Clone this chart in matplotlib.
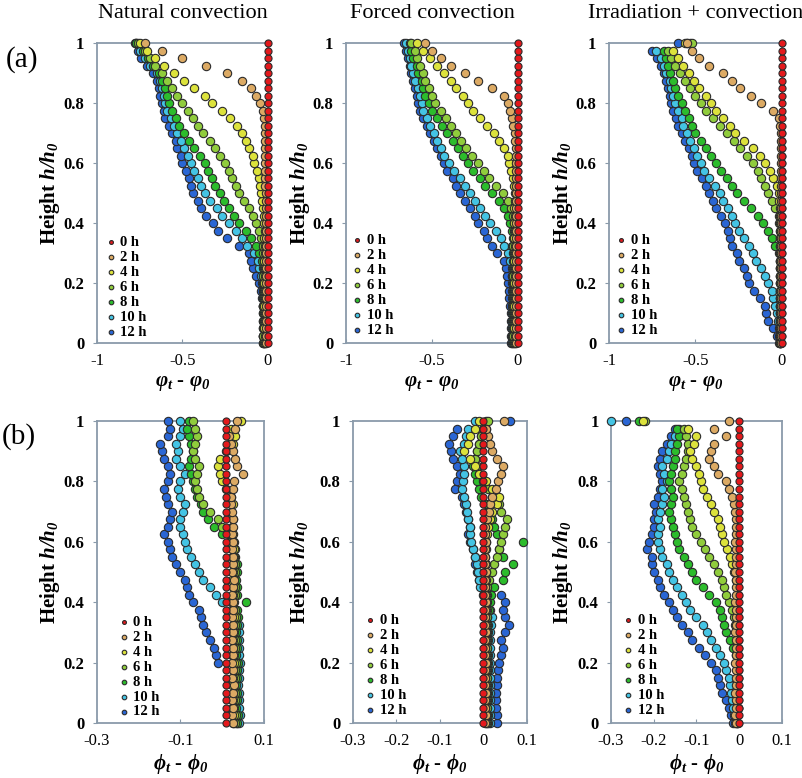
import matplotlib
matplotlib.use('Agg')
from matplotlib import pyplot as plt

# heights h/h0 shared by every series (measurement positions)
heights = [0.0, 0.025, 0.05, 0.075, 0.1, 0.125, 0.15, 0.175, 0.2, 0.225,
           0.25, 0.275, 0.3, 0.325, 0.35, 0.375, 0.4, 0.425, 0.45, 0.475,
           0.5, 0.525, 0.55, 0.575, 0.6, 0.625, 0.65, 0.675, 0.7, 0.725,
           0.75, 0.775, 0.8, 0.825, 0.85, 0.875, 0.9, 0.925, 0.95, 0.975, 1.0]

series_labels = ['0 h', '2 h', '4 h', '6 h', '8 h', '10 h', '12 h']
series_colors = ['#e4191c', '#dcaa64', '#dce23c', '#90cc3c', '#2cbc2c', '#44c4e4', '#2a66d4']

# ---- (a) varphi_t - varphi_0, natural convection ----
nat_a_0h = [0.0, 0.0, 0.0, 0.0, 0.0, 0.0, 0.0, 0.0, 0.0, 0.0,
            0.0, 0.0, 0.0, 0.0, 0.0, 0.0, 0.0, 0.0, 0.0, 0.0,
            0.0, 0.0, 0.0, 0.0, 0.0, 0.0, 0.0, 0.0, 0.0, 0.0,
            0.0, 0.0, 0.0, 0.0, 0.0, 0.0, 0.0, 0.0, 0.0, 0.0, 0.0]
nat_a_2h = [-0.010, -0.012, -0.010, -0.011, -0.010, -0.012, -0.011, -0.010, -0.012, -0.011,
            -0.010, -0.012, -0.011, -0.010, -0.012, -0.011, -0.010, -0.012, -0.011, -0.012,
            -0.013, -0.015, -0.015, -0.015, -0.016, -0.017, -0.018, -0.019, -0.020, -0.020,
            -0.022, -0.030, -0.045, -0.070, -0.100, -0.150, -0.240, -0.360, -0.500, -0.620, -0.720]
nat_a_4h = [-0.020, -0.018, -0.021, -0.019, -0.020, -0.022, -0.019, -0.020, -0.021, -0.018,
            -0.020, -0.022, -0.019, -0.020, -0.021, -0.019, -0.022, -0.025, -0.030, -0.035,
            -0.040, -0.045, -0.055, -0.065, -0.080, -0.090, -0.110, -0.130, -0.150, -0.180,
            -0.220, -0.270, -0.330, -0.370, -0.430, -0.490, -0.550, -0.610, -0.660, -0.710, -0.750]
nat_a_6h = [-0.025, -0.027, -0.024, -0.026, -0.025, -0.027, -0.024, -0.026, -0.025, -0.027,
            -0.024, -0.026, -0.027, -0.030, -0.040, -0.050, -0.070, -0.090, -0.110, -0.140,
            -0.170, -0.190, -0.210, -0.230, -0.250, -0.280, -0.310, -0.340, -0.380, -0.410,
            -0.440, -0.470, -0.500, -0.530, -0.560, -0.590, -0.620, -0.660, -0.690, -0.720, -0.760]
nat_a_8h = [-0.030, -0.032, -0.029, -0.031, -0.030, -0.032, -0.029, -0.031, -0.030, -0.032,
            -0.031, -0.035, -0.050, -0.070, -0.100, -0.130, -0.170, -0.200, -0.230, -0.260,
            -0.280, -0.310, -0.330, -0.350, -0.370, -0.400, -0.430, -0.460, -0.490, -0.520,
            -0.540, -0.560, -0.580, -0.590, -0.600, -0.620, -0.640, -0.670, -0.700, -0.730, -0.770]
nat_a_10h = [-0.025, -0.027, -0.024, -0.026, -0.025, -0.027, -0.026, -0.028, -0.035, -0.040,
             -0.050, -0.060, -0.080, -0.120, -0.150, -0.190, -0.230, -0.270, -0.300, -0.340,
             -0.370, -0.390, -0.410, -0.430, -0.450, -0.470, -0.490, -0.510, -0.530, -0.550,
             -0.570, -0.590, -0.600, -0.610, -0.620, -0.630, -0.650, -0.690, -0.720, -0.750, -0.770]
nat_a_12h = [-0.030, -0.032, -0.029, -0.031, -0.030, -0.032, -0.035, -0.040, -0.050, -0.070,
             -0.090, -0.100, -0.110, -0.170, -0.240, -0.290, -0.320, -0.360, -0.390, -0.410,
             -0.440, -0.450, -0.460, -0.480, -0.500, -0.510, -0.530, -0.540, -0.560, -0.580,
             -0.600, -0.610, -0.620, -0.630, -0.640, -0.650, -0.670, -0.710, -0.740, -0.760, -0.780]

# ---- (a) forced convection ----
for_a_0h = [0.0, 0.0, 0.0, 0.0, 0.0, 0.0, 0.0, 0.0, 0.0, 0.0,
            0.0, 0.0, 0.0, 0.0, 0.0, 0.0, 0.0, 0.0, 0.0, 0.0,
            0.0, 0.0, 0.0, 0.0, 0.0, 0.0, 0.0, 0.0, 0.0, 0.0,
            0.0, 0.0, 0.0, 0.0, 0.0, 0.0, 0.0, 0.0, 0.0, 0.0, 0.0]
for_a_2h = [-0.010, -0.012, -0.010, -0.011, -0.010, -0.012, -0.011, -0.010, -0.012, -0.011,
            -0.010, -0.012, -0.011, -0.010, -0.012, -0.011, -0.010, -0.012, -0.011, -0.010,
            -0.012, -0.011, -0.010, -0.012, -0.011, -0.010, -0.012, -0.015, -0.020, -0.030,
            -0.035, -0.045, -0.060, -0.080, -0.150, -0.230, -0.310, -0.390, -0.450, -0.500, -0.540]
for_a_4h = [-0.020, -0.018, -0.021, -0.019, -0.020, -0.022, -0.019, -0.020, -0.021, -0.018,
            -0.020, -0.022, -0.019, -0.020, -0.021, -0.019, -0.022, -0.020, -0.021, -0.019,
            -0.020, -0.025, -0.030, -0.040, -0.050, -0.060, -0.080, -0.110, -0.140, -0.180,
            -0.220, -0.260, -0.290, -0.320, -0.360, -0.390, -0.430, -0.470, -0.510, -0.550, -0.590]
for_a_6h = [-0.025, -0.027, -0.024, -0.026, -0.025, -0.027, -0.024, -0.026, -0.025, -0.027,
            -0.024, -0.026, -0.025, -0.027, -0.024, -0.026, -0.025, -0.030, -0.040, -0.060,
            -0.090, -0.130, -0.170, -0.200, -0.230, -0.270, -0.300, -0.330, -0.360, -0.390,
            -0.420, -0.450, -0.480, -0.500, -0.520, -0.540, -0.550, -0.570, -0.590, -0.600, -0.620]
for_a_8h = [-0.030, -0.032, -0.029, -0.031, -0.030, -0.032, -0.029, -0.031, -0.030, -0.032,
            -0.029, -0.031, -0.030, -0.032, -0.031, -0.035, -0.045, -0.060, -0.080, -0.110,
            -0.150, -0.190, -0.220, -0.260, -0.290, -0.320, -0.350, -0.380, -0.410, -0.440,
            -0.470, -0.500, -0.520, -0.540, -0.550, -0.560, -0.580, -0.590, -0.610, -0.620, -0.630]
for_a_10h = [-0.035, -0.037, -0.034, -0.036, -0.035, -0.037, -0.034, -0.036, -0.035, -0.037,
             -0.036, -0.045, -0.060, -0.080, -0.100, -0.130, -0.160, -0.190, -0.220, -0.250,
             -0.280, -0.310, -0.340, -0.370, -0.400, -0.430, -0.450, -0.470, -0.490, -0.510,
             -0.530, -0.550, -0.560, -0.570, -0.580, -0.600, -0.610, -0.620, -0.630, -0.640, -0.650]
for_a_12h = [-0.040, -0.042, -0.040, -0.041, -0.040, -0.045, -0.050, -0.055, -0.060, -0.065,
             -0.070, -0.080, -0.120, -0.150, -0.180, -0.200, -0.230, -0.250, -0.280, -0.310,
             -0.340, -0.360, -0.380, -0.410, -0.430, -0.450, -0.470, -0.490, -0.510, -0.530,
             -0.550, -0.570, -0.580, -0.590, -0.600, -0.610, -0.620, -0.630, -0.640, -0.650, -0.660]

# ---- (a) irradiation + convection ----
irr_a_0h = [0.0, 0.0, 0.0, 0.0, 0.0, 0.0, 0.0, 0.0, 0.0, 0.0,
            0.0, 0.0, 0.0, 0.0, 0.0, 0.0, 0.0, 0.0, 0.0, 0.0,
            0.0, 0.0, 0.0, 0.0, 0.0, 0.0, 0.0, 0.0, 0.0, 0.0,
            0.0, 0.0, 0.0, 0.0, 0.0, 0.0, 0.0, 0.0, 0.0, 0.0, 0.0]
irr_a_2h = [-0.005, -0.006, -0.005, -0.004, -0.005, -0.006, -0.005, -0.004, -0.005, -0.006,
            -0.005, -0.004, -0.005, -0.006, -0.005, -0.004, -0.005, -0.006, -0.005, -0.004,
            -0.005, -0.006, -0.005, -0.004, -0.005, -0.006, -0.005, -0.004, -0.005, -0.010,
            -0.020, -0.050, -0.120, -0.180, -0.240, -0.290, -0.340, -0.420, -0.480, -0.520, -0.550]
irr_a_4h = [-0.010, -0.012, -0.010, -0.011, -0.010, -0.012, -0.011, -0.010, -0.012, -0.011,
            -0.010, -0.012, -0.011, -0.010, -0.012, -0.011, -0.010, -0.012, -0.011, -0.015,
            -0.020, -0.030, -0.050, -0.070, -0.100, -0.130, -0.170, -0.220, -0.270, -0.300,
            -0.340, -0.380, -0.410, -0.440, -0.480, -0.510, -0.540, -0.570, -0.600, -0.630, -0.560]
irr_a_6h = [-0.010, -0.012, -0.010, -0.011, -0.010, -0.012, -0.011, -0.010, -0.012, -0.011,
            -0.010, -0.012, -0.011, -0.010, -0.012, -0.011, -0.015, -0.020, -0.040, -0.060,
            -0.080, -0.100, -0.120, -0.140, -0.170, -0.200, -0.240, -0.280, -0.320, -0.360,
            -0.400, -0.440, -0.470, -0.500, -0.530, -0.560, -0.590, -0.620, -0.640, -0.660, -0.520]
irr_a_8h = [-0.010, -0.012, -0.010, -0.011, -0.010, -0.012, -0.011, -0.010, -0.012, -0.011,
            -0.010, -0.012, -0.020, -0.040, -0.060, -0.080, -0.110, -0.140, -0.180, -0.220,
            -0.260, -0.290, -0.320, -0.350, -0.380, -0.410, -0.440, -0.470, -0.500, -0.520,
            -0.540, -0.560, -0.580, -0.600, -0.620, -0.630, -0.650, -0.660, -0.670, -0.680, -0.530]
irr_a_10h = [-0.010, -0.015, -0.020, -0.025, -0.030, -0.040, -0.050, -0.060, -0.080, -0.100,
             -0.120, -0.150, -0.170, -0.190, -0.220, -0.250, -0.270, -0.290, -0.310, -0.340,
             -0.360, -0.390, -0.420, -0.450, -0.470, -0.490, -0.510, -0.530, -0.550, -0.570,
             -0.580, -0.600, -0.620, -0.630, -0.640, -0.650, -0.670, -0.680, -0.700, -0.730, -0.550]
irr_a_12h = [-0.020, -0.030, -0.050, -0.080, -0.090, -0.100, -0.130, -0.160, -0.190, -0.200,
             -0.220, -0.250, -0.260, -0.290, -0.300, -0.310, -0.330, -0.350, -0.380, -0.400,
             -0.420, -0.440, -0.460, -0.490, -0.510, -0.520, -0.540, -0.560, -0.580, -0.600,
             -0.610, -0.630, -0.640, -0.650, -0.660, -0.670, -0.680, -0.700, -0.720, -0.750, -0.600]

# ---- (b) phi_t - phi_0, natural convection ----
nat_b_0h = [0.010, 0.010, 0.010, 0.010, 0.010, 0.010, 0.010, 0.010, 0.010, 0.010,
            0.010, 0.010, 0.010, 0.010, 0.010, 0.010, 0.010, 0.010, 0.010, 0.010,
            0.010, 0.010, 0.010, 0.010, 0.010, 0.010, 0.010, 0.010, 0.010, 0.010,
            0.010, 0.010, 0.010, 0.010, 0.010, 0.010, 0.010, 0.010, 0.010, 0.010, 0.010]
nat_b_2h = [0.025, 0.023, 0.026, 0.024, 0.025, 0.027, 0.024, 0.025, 0.023, 0.026,
            0.025, 0.024, 0.026, 0.025, 0.023, 0.025, 0.026, 0.024, 0.025, 0.027,
            0.024, 0.025, 0.026, 0.024, 0.025, 0.023, 0.026, 0.025, 0.024, 0.022,
            0.022, 0.025, 0.028, 0.050, 0.035, 0.030, 0.025, 0.020, 0.015, 0.030, 0.035]
nat_b_4h = [0.025, 0.027, 0.024, 0.026, 0.025, 0.023, 0.026, 0.025, 0.027, 0.024,
            0.025, 0.026, 0.024, 0.025, 0.027, 0.025, 0.024, 0.026, 0.025, 0.023,
            0.026, 0.025, 0.024, 0.027, 0.025, 0.026, 0.024, 0.025, 0.020, 0.025,
            0.020, 0.010, 0.000, -0.005, -0.010, -0.005, 0.010, 0.025, 0.030, 0.020, 0.045]
nat_b_6h = [0.030, 0.032, 0.029, 0.031, 0.030, 0.028, 0.031, 0.030, 0.032, 0.029,
            0.030, 0.031, 0.029, 0.030, 0.032, 0.030, 0.029, 0.031, 0.030, 0.028,
            0.031, 0.030, 0.029, 0.030, 0.028, 0.015, 0.000, -0.010, -0.030, -0.045,
            -0.055, -0.060, -0.065, -0.060, -0.055, -0.065, -0.070, -0.065, -0.060, -0.065, -0.070]
nat_b_8h = [0.035, 0.037, 0.034, 0.036, 0.035, 0.033, 0.036, 0.035, 0.037, 0.034,
            0.035, 0.036, 0.034, 0.035, 0.037, 0.035, 0.058, 0.036, 0.035, 0.033,
            0.036, 0.035, 0.030, 0.025, 0.015, 0.000, -0.020, -0.035, -0.045, -0.050,
            -0.060, -0.065, -0.070, -0.075, -0.080, -0.075, -0.070, -0.075, -0.080, -0.085, -0.080]
nat_b_10h = [0.040, 0.042, 0.039, 0.041, 0.040, 0.038, 0.041, 0.040, 0.042, 0.039,
             0.040, 0.041, 0.039, 0.040, 0.035, 0.020, 0.000, -0.015, -0.030, -0.045,
             -0.055, -0.065, -0.075, -0.085, -0.090, -0.095, -0.100, -0.100, -0.095, -0.090,
             -0.100, -0.105, -0.100, -0.090, -0.100, -0.110, -0.105, -0.110, -0.100, -0.095, -0.100]
nat_b_12h = [0.035, 0.037, 0.034, 0.036, 0.035, 0.033, 0.036, 0.035, -0.010, -0.015,
             -0.020, -0.030, -0.040, -0.045, -0.050, -0.055, -0.070, -0.080, -0.085, -0.090,
             -0.100, -0.110, -0.120, -0.125, -0.130, -0.140, -0.130, -0.125, -0.120, -0.130,
             -0.135, -0.140, -0.130, -0.125, -0.130, -0.140, -0.145, -0.150, -0.130, -0.125, -0.130]

# ---- (b) forced convection ----
for_b_0h = [0.0, 0.0, 0.0, 0.0, 0.0, 0.0, 0.0, 0.0, 0.0, 0.0,
            0.0, 0.0, 0.0, 0.0, 0.0, 0.0, 0.0, 0.0, 0.0, 0.0,
            0.0, 0.0, 0.0, 0.0, 0.0, 0.0, 0.0, 0.0, 0.0, 0.0,
            0.0, 0.0, 0.0, 0.0, 0.0, 0.0, 0.0, 0.0, 0.0, 0.0, 0.0]
for_b_2h = [0.004, 0.005, 0.003, 0.004, 0.005, 0.004, 0.003, 0.004, 0.005, 0.004,
            0.003, 0.004, 0.005, 0.004, 0.003, 0.004, 0.005, 0.004, 0.003, 0.004,
            0.005, 0.004, 0.003, 0.004, 0.005, 0.004, 0.003, 0.008, 0.012, 0.016,
            0.020, 0.028, 0.033, 0.040, 0.045, 0.030, 0.020, 0.015, 0.010, 0.005, 0.048]
for_b_4h = [0.005, 0.006, 0.004, 0.005, 0.006, 0.005, 0.004, 0.005, 0.006, 0.005,
            0.004, 0.005, 0.006, 0.005, 0.004, 0.005, 0.006, 0.005, 0.004, 0.005,
            0.006, 0.005, 0.004, 0.005, 0.006, 0.007, 0.010, 0.015, 0.020, 0.030,
            0.035, 0.020, 0.005, -0.010, -0.020, -0.030, -0.045, -0.035, -0.030, -0.020, -0.010]
for_b_6h = [0.008, 0.009, 0.007, 0.008, 0.009, 0.008, 0.007, 0.008, 0.009, 0.008,
            0.007, 0.008, 0.009, 0.008, 0.007, 0.008, 0.009, 0.008, 0.007, 0.012,
            0.020, 0.025, 0.030, 0.035, 0.040, 0.045, 0.050, 0.055, 0.040, 0.035,
            0.020, 0.010, 0.000, -0.010, -0.015, -0.020, -0.015, -0.010, -0.005, 0.005, 0.010]
for_b_8h = [0.010, 0.011, 0.009, 0.010, 0.011, 0.010, 0.009, 0.010, 0.011, 0.010,
            0.009, 0.010, 0.011, 0.010, 0.009, 0.012, 0.015, 0.018, 0.025, 0.045,
            0.050, 0.068, 0.045, 0.035, 0.090, 0.030, 0.025, 0.020, 0.010, 0.005,
            -0.005, -0.010, -0.015, -0.020, -0.025, -0.020, -0.015, -0.010, -0.005, 0.000, 0.005]
for_b_10h = [0.015, 0.016, 0.014, 0.015, 0.016, 0.015, 0.014, 0.015, 0.016, 0.015,
             0.014, 0.015, 0.016, 0.018, 0.020, 0.015, 0.010, 0.000, -0.008, -0.010,
             -0.012, -0.015, -0.020, -0.025, -0.028, -0.030, -0.032, -0.035, -0.038, -0.040,
             -0.045, -0.050, -0.048, -0.045, -0.044, -0.050, -0.055, -0.045, -0.040, -0.035, -0.020]
for_b_12h = [0.030, 0.031, 0.029, 0.028, 0.028, 0.030, 0.032, 0.033, 0.035, 0.040,
             0.045, 0.040, 0.050, 0.058, 0.050, 0.045, 0.050, 0.040, 0.000, -0.010,
             -0.015, -0.020, -0.020, -0.025, -0.030, -0.035, -0.030, -0.035, -0.040, -0.045,
             -0.050, -0.065, -0.060, -0.055, -0.060, -0.070, -0.075, -0.080, -0.070, -0.060, 0.062]

# ---- (b) irradiation + convection ----
irr_b_0h = [0.0, 0.0, 0.0, 0.0, 0.0, 0.0, 0.0, 0.0, 0.0, 0.0,
            0.0, 0.0, 0.0, 0.0, 0.0, 0.0, 0.0, 0.0, 0.0, 0.0,
            0.0, 0.0, 0.0, 0.0, 0.0, 0.0, 0.0, 0.0, 0.0, 0.0,
            0.0, 0.0, 0.0, 0.0, 0.0, 0.0, 0.0, 0.0, 0.0, 0.0, 0.0]
irr_b_2h = [-0.008, -0.009, -0.007, -0.008, -0.009, -0.008, -0.007, -0.008, -0.009, -0.008,
            -0.007, -0.008, -0.009, -0.008, -0.007, -0.008, -0.009, -0.008, -0.007, -0.008,
            -0.009, -0.008, -0.007, -0.008, -0.009, -0.008, -0.007, -0.008, -0.009, -0.012,
            -0.016, -0.025, -0.032, -0.050, -0.060, -0.070, -0.065, -0.060, -0.030, -0.060, -0.025]
irr_b_4h = [-0.004, -0.005, -0.003, -0.004, -0.005, -0.004, -0.003, -0.004, -0.005, -0.004,
            -0.003, -0.004, -0.005, -0.004, -0.003, -0.004, -0.005, -0.004, -0.003, -0.008,
            -0.012, -0.018, -0.022, -0.028, -0.035, -0.040, -0.045, -0.050, -0.058, -0.065,
            -0.075, -0.085, -0.090, -0.095, -0.100, -0.110, -0.115, -0.105, -0.100, -0.120, -0.225]
irr_b_6h = [-0.005, -0.006, -0.004, -0.005, -0.006, -0.005, -0.004, -0.005, -0.006, -0.005,
            -0.004, -0.005, -0.006, -0.010, -0.012, -0.018, -0.025, -0.030, -0.035, -0.040,
            -0.050, -0.060, -0.070, -0.080, -0.090, -0.100, -0.110, -0.115, -0.120, -0.125,
            -0.130, -0.135, -0.140, -0.135, -0.130, -0.125, -0.120, -0.120, -0.125, -0.130, -0.220]
irr_b_8h = [-0.005, -0.006, -0.004, -0.005, -0.006, -0.005, -0.004, -0.005, -0.006, -0.008,
            -0.015, -0.022, -0.030, -0.035, -0.040, -0.045, -0.055, -0.070, -0.085, -0.100,
            -0.110, -0.120, -0.130, -0.140, -0.145, -0.150, -0.155, -0.160, -0.165, -0.160,
            -0.155, -0.160, -0.165, -0.160, -0.155, -0.150, -0.150, -0.145, -0.140, -0.145, -0.235]
irr_b_10h = [-0.010, -0.012, -0.015, -0.018, -0.020, -0.022, -0.025, -0.030, -0.035, -0.045,
             -0.055, -0.065, -0.075, -0.085, -0.100, -0.115, -0.125, -0.135, -0.145, -0.155,
             -0.165, -0.170, -0.180, -0.185, -0.190, -0.190, -0.185, -0.190, -0.185, -0.180,
             -0.175, -0.180, -0.170, -0.175, -0.180, -0.170, -0.165, -0.160, -0.150, -0.140, -0.300]
irr_b_12h = [-0.015, -0.020, -0.025, -0.030, -0.040, -0.045, -0.050, -0.055, -0.065, -0.080,
             -0.095, -0.110, -0.120, -0.135, -0.145, -0.155, -0.165, -0.175, -0.185, -0.190,
             -0.200, -0.205, -0.205, -0.215, -0.210, -0.205, -0.200, -0.200, -0.195, -0.200,
             -0.190, -0.185, -0.180, -0.185, -0.190, -0.185, -0.180, -0.170, -0.160, -0.150, -0.265]

yticks = [0, 0.2, 0.4, 0.6, 0.8, 1]
ytick_labels = ['0', '0.2', '0.4', '0.6', '0.8', '1']
xticks_a = [-1, -0.5, 0]
xtick_labels_a = ['-1', '-0.5', '0']
xticks_b1 = [-0.3, -0.1, 0.1]
xtick_labels_b1 = ['-0.3', '-0.1', '0.1']
xticks_b = [-0.3, -0.2, -0.1, 0, 0.1]
xtick_labels_b = ['-0.3', '-0.2', '-0.1', '0', '0.1']

titles = ['Natural convection', 'Forced convection', 'Irradiation + convection']

plt.rcParams['font.family'] = ['Liberation Serif', 'DejaVu Serif']
plt.rcParams['axes.unicode_minus'] = False
plt.rcParams['mathtext.fontset'] = 'custom'
plt.rcParams['mathtext.rm'] = 'Liberation Serif:italic:bold'
plt.rcParams['mathtext.it'] = 'Liberation Serif:italic:bold'
plt.rcParams['mathtext.bf'] = 'Liberation Serif:bold'

W, H = 803, 778
fig = plt.figure(figsize=(W / 100, H / 100), dpi=100)


def px_axes(left, top, width, height):
    return fig.add_axes([left / W, 1 - (top + height) / H, width / W, height / H])


def draw_panel(ax, series, xlim, xticks, xlabels, legend_xy):
    # draw later hours first so the 0 h column stays on top
    handles = []
    for values, color, label in reversed(list(zip(series, series_colors, series_labels))):
        size = 26 if label == '0 h' else 36
        sc = ax.scatter(values, heights, s=size, c=color, edgecolors='#2b2b2b',
                        linewidths=0.8, label=label, zorder=3, clip_on=False)
        handles.append(sc)
    handles = handles[::-1]
    ax.set_xlim(xlim)
    ax.set_ylim(0, 1)
    ax.set_xticks(xticks)
    ax.set_xticklabels(xlabels, fontsize=12)
    ax.set_yticks(yticks)
    ax.set_yticklabels(ytick_labels, fontsize=12, fontweight='bold')
    ax.tick_params(axis='x', direction='in', length=3, color='#8a9aaa', pad=7)
    ax.tick_params(axis='y', direction='out', length=3, color='#8a9aaa', pad=6)
    for sp in ax.spines.values():
        sp.set_color('#8a9aaa')
        sp.set_linewidth(1.3)
    ax.legend(handles=handles, loc='lower left', bbox_to_anchor=legend_xy, frameon=False,
              markerscale=0.55, handlelength=0.7, handletextpad=0.3, labelspacing=0.12,
              borderpad=0, borderaxespad=0, prop={'weight': 'bold', 'size': 10.5})


row_a = [(nat_a_0h, nat_a_2h, nat_a_4h, nat_a_6h, nat_a_8h, nat_a_10h, nat_a_12h),
         (for_a_0h, for_a_2h, for_a_4h, for_a_6h, for_a_8h, for_a_10h, for_a_12h),
         (irr_a_0h, irr_a_2h, irr_a_4h, irr_a_6h, irr_a_8h, irr_a_10h, irr_a_12h)]
row_b = [(nat_b_0h, nat_b_2h, nat_b_4h, nat_b_6h, nat_b_8h, nat_b_10h, nat_b_12h),
         (for_b_0h, for_b_2h, for_b_4h, for_b_6h, for_b_8h, for_b_10h, for_b_12h),
         (irr_b_0h, irr_b_2h, irr_b_4h, irr_b_6h, irr_b_8h, irr_b_10h, irr_b_12h)]

boxes_a = [(97, 43, 171, 300), (346, 43, 172, 300), (609, 43, 173, 300)]
boxes_b = [(97, 421, 167, 302), (353, 421, 174, 302), (611, 421, 171, 302)]
legend_a = [(0.05, 0.015), (0.035, 0.02), (0.04, 0.02)]
legend_b = [(0.13, 0.015), (0.07, 0.02), (0.07, 0.02)]
ylabel_x = [50, 300, 563]

for k in range(3):
    ax = px_axes(*boxes_a[k])
    draw_panel(ax, row_a[k], (-1, 0), xticks_a, xtick_labels_a, legend_a[k])
    l, t, w, h = boxes_a[k]
    fig.text((l + w / 2) / W, 1 - 13 / H, titles[k], fontsize=16, ha='center', va='center')
    fig.text((l + w / 2) / W, 1 - 383 / H, '$\u03c6_t$ - $\u03c6_0$', fontsize=15,
             fontweight='bold', ha='center', va='center')
    fig.text(ylabel_x[k] / W, 1 - (t + h / 2) / H, 'Height $h/h_0$', fontsize=15,
             fontweight='bold', rotation=90, ha='center', va='center')

for k in range(3):
    ax = px_axes(*boxes_b[k])
    if k == 0:
        draw_panel(ax, row_b[k], (-0.3, 0.1), xticks_b1, xtick_labels_b1, legend_b[k])
    else:
        draw_panel(ax, row_b[k], (-0.3, 0.1), xticks_b, xtick_labels_b, legend_b[k])
    l, t, w, h = boxes_b[k]
    fig.text((l + w / 2) / W, 1 - 764 / H, '$\u03d5_t$ - $\u03d5_0$', fontsize=15,
             fontweight='bold', ha='center', va='center')
    fig.text(ylabel_x[k] / W, 1 - (t + h / 2) / H, 'Height $h/h_0$', fontsize=15,
             fontweight='bold', rotation=90, ha='center', va='center')

fig.text(22 / W, 1 - 60 / H, '(a)', fontsize=21, ha='center', va='center')
fig.text(19 / W, 1 - 437 / H, '(b)', fontsize=21, ha='center', va='center')

fig.savefig('out.png', dpi=100)
